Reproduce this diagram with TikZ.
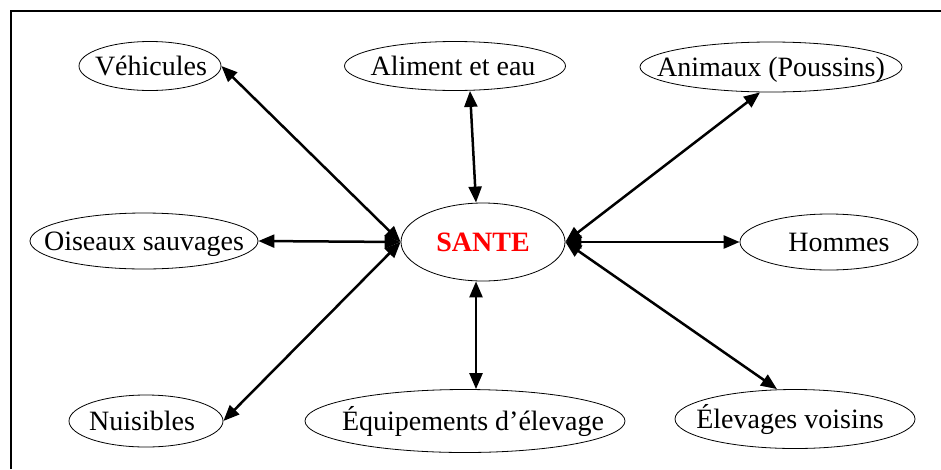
\documentclass[tikz,border=0pt]{standalone}
\usepackage{fontspec}
\setmainfont{Liberation Serif}
\usetikzlibrary{shapes.geometric,arrows.meta,calc}
\newcommand\ctxt[2][0pt]{\makebox[0pt]{\hspace*{#1}\hspace*{#1}\raisebox{-0.33em}[0pt][0pt]{#2}}}
\begin{document}
\begin{tikzpicture}[x=1pt,y=-1pt,
  bubble/.style={ellipse,draw,line width=0.8pt,inner sep=0pt,font=\fontsize{28}{30}\selectfont},
  link/.style={line width=2.5pt,{Triangle[length=16pt,width=13pt]}-{Triangle[length=16pt,width=13pt]}}]
\useasboundingbox (0,0) rectangle (941,469);
\draw[line width=2pt] (11,469) -- (11,11) -- (941,11);
\node[bubble,minimum width=142pt,minimum height=49pt] (veh) at (150,66) {\ctxt[1pt]{Véhicules}};
\node[bubble,minimum width=221pt,minimum height=49pt] (ali) at (455,66) {\ctxt[-2pt]{Aliment et eau}};
\node[bubble,minimum width=262pt,minimum height=50pt] (ani) at (771,67) {\ctxt{Animaux (Poussins)}};
\node[bubble,minimum width=228pt,minimum height=56pt] (ois) at (144,241) {\ctxt{Oiseaux sauvages}};
\node[bubble,minimum width=164pt,minimum height=78pt,text=red,font=\fontsize{28}{30}\selectfont\bfseries] (san) at (483,242) {\ctxt{SANTE}};
\node[bubble,minimum width=178pt,minimum height=56pt] (hom) at (829,242) {\ctxt[10pt]{Hommes}};
\node[bubble,minimum width=154pt,minimum height=52pt] (nui) at (146,421) {\ctxt[-4pt]{Nuisibles}};
\node[bubble,minimum width=320pt,minimum height=63pt] (equ) at (465,421) {\ctxt[8pt]{Équipements d’élevage}};
\node[bubble,minimum width=240pt,minimum height=59pt] (elv) at (795,419) {\ctxt[-5pt]{Élevages voisins}};
\draw[link] (veh.east) -- (san.west);
\draw[link] (ois.east) -- (san.west);
\draw[link] (nui.east) -- (san.west);
\draw[link] ([xshift=15pt]ali.south) -- ([xshift=-7pt]san.north);
\draw[link] ([xshift=-7pt]san.south) -- ([xshift=11pt]equ.north);
\draw[link] ([xshift=-11pt]ani.south) -- (san.east);
\draw[link] (san.east) -- (hom.west);
\draw[link] (san.east) -- ([xshift=-18pt]elv.north);
\end{tikzpicture}
\end{document}
